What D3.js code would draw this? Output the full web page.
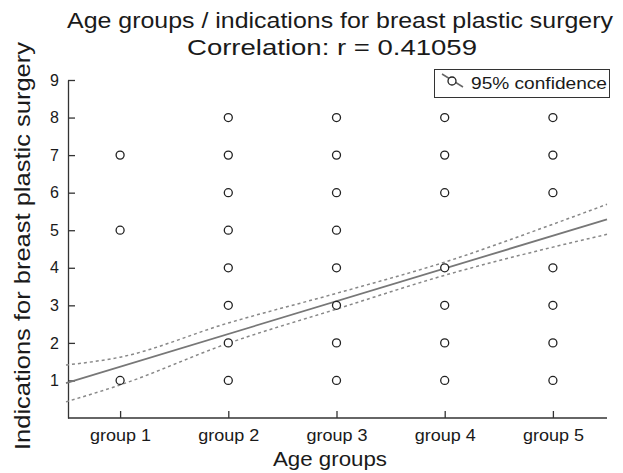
<!DOCTYPE html>
<html>
<head>
<meta charset="utf-8">
<script src="https://cdn.jsdelivr.net/npm/d3@7"></script>
<style>
  body { margin: 0; background: #fff; }
  text { font-family: "Liberation Sans", Arial, sans-serif; fill: #1a1a1a; }
</style>
</head>
<body>
<script>
// categories and observed values (group index, indication count)
var groups = ["group 1", "group 2", "group 3", "group 4", "group 5"];
var group1 = [1, 5, 7];
var group2 = [1, 2, 3, 4, 5, 6, 7, 8];
var group3 = [1, 2, 3, 4, 5, 6, 7, 8];
var group4 = [1, 2, 3, 4, 6, 7, 8];
var group5 = [1, 2, 3, 4, 6, 7, 8];
var yTicks = [1, 2, 3, 4, 5, 6, 7, 8, 9];

// fitted line and 95% band
var fitX = [0.5, 5.5];
var fitY = [0.93, 5.29];
var bandX = [0.5, 1, 2, 3, 4, 5, 5.5];
var bandUpper = [1.41, 1.62, 2.53, 3.32, 4.15, 5.16, 5.69];
var bandLower = [0.43, 0.88, 1.99, 2.90, 3.80, 4.55, 4.89];

var width = 623, height = 473;
var margin = {top: 80, right: 16, bottom: 55, left: 68};

var svg = d3.select("body").append("svg")
    .attr("width", width)
    .attr("height", height);

var x = d3.scaleLinear()
    .domain([0.5, 5.5])
    .range([margin.left - 2, width - margin.right]);
var y = d3.scaleLinear()
    .domain([0, 9])
    .range([height - margin.bottom, margin.top]);

var points = [];
[group1, group2, group3, group4, group5].forEach(function(vals, i) {
  vals.forEach(function(v) { points.push({g: i + 1, v: v}); });
});

// axes
var xAxis = svg.append("g")
    .attr("transform", "translate(0," + y(0) + ")")
    .call(d3.axisBottom(x)
        .tickValues([1, 2, 3, 4, 5])
        .tickFormat(function(d) { return groups[d - 1]; })
        .tickSize(-7)
        .tickPadding(12)
        .tickSizeOuter(0));
var yAxis = svg.append("g")
    .attr("transform", "translate(" + margin.left + ",0)")
    .call(d3.axisLeft(y)
        .tickValues(yTicks)
        .tickSize(-7)
        .tickPadding(9)
        .tickSizeOuter(0));
[xAxis, yAxis].forEach(function(a) {
  a.select(".domain").attr("stroke", "#333").attr("stroke-width", 1.3);
  a.selectAll(".tick line").attr("stroke", "#333").attr("stroke-width", 1.3);
  a.selectAll(".tick text").attr("font-size", 16).attr("fill", "#1a1a1a")
      .attr("font-family", "Liberation Sans, Arial, sans-serif");
});
xAxis.selectAll(".tick text").attr("textLength", 61).attr("lengthAdjust", "spacingAndGlyphs");
xAxis.select(".domain").attr("d", "M" + margin.left + ",0H" + (width - margin.right));

// confidence band
var line = d3.line()
    .x(function(d) { return x(d[0]); })
    .y(function(d) { return y(d[1]); })
    .curve(d3.curveMonotoneX);

[bandUpper, bandLower].forEach(function(b) {
  svg.append("path")
      .datum(d3.zip(bandX, b))
      .attr("d", line)
      .attr("fill", "none")
      .attr("stroke", "#888")
      .attr("stroke-width", 1.5)
      .attr("stroke-dasharray", "3,3");
});

svg.append("path")
    .datum(d3.zip(fitX, fitY))
    .attr("d", line)
    .attr("fill", "none")
    .attr("stroke", "#777")
    .attr("stroke-width", 1.8);

// scatter
svg.selectAll(".dot")
    .data(points)
    .enter().append("circle")
    .attr("class", "dot")
    .attr("cx", function(d) { return x(d.g); })
    .attr("cy", function(d) { return y(d.v); })
    .attr("r", 4)
    .attr("fill", "#fff")
    .attr("stroke", "#222")
    .attr("stroke-width", 1.3);

// titles
function label(x0, y0, size, len, str, rot) {
  return svg.append("text")
      .attr("transform", "translate(" + x0 + "," + y0 + ")" + (rot ? " rotate(-90)" : ""))
      .attr("font-size", size)
      .attr("textLength", len)
      .attr("lengthAdjust", "spacingAndGlyphs")
      .text(str);
}
label(67, 28, 22, 546, "Age groups / indications for breast plastic surgery");
label(187, 55, 22, 290, "Correlation: r = 0.41059");
label(273, 466, 21, 114, "Age groups");
label(30, 450, 22, 408, "Indications for breast plastic surgery", true);

// legend
var lg = svg.append("g");
lg.append("rect")
    .attr("x", 434.5).attr("y", 69.5)
    .attr("width", 175).attr("height", 28)
    .attr("fill", "#fff")
    .attr("stroke", "#333")
    .attr("stroke-width", 1);
lg.append("line")
    .attr("x1", 442).attr("y1", 74)
    .attr("x2", 463).attr("y2", 87)
    .attr("stroke", "#666").attr("stroke-width", 1.5);
lg.append("circle")
    .attr("cx", 452).attr("cy", 81).attr("r", 4)
    .attr("fill", "#fff").attr("stroke", "#222").attr("stroke-width", 1.3);
label(471, 89, 17, 136, "95% confidence");
</script>
</body>
</html>
